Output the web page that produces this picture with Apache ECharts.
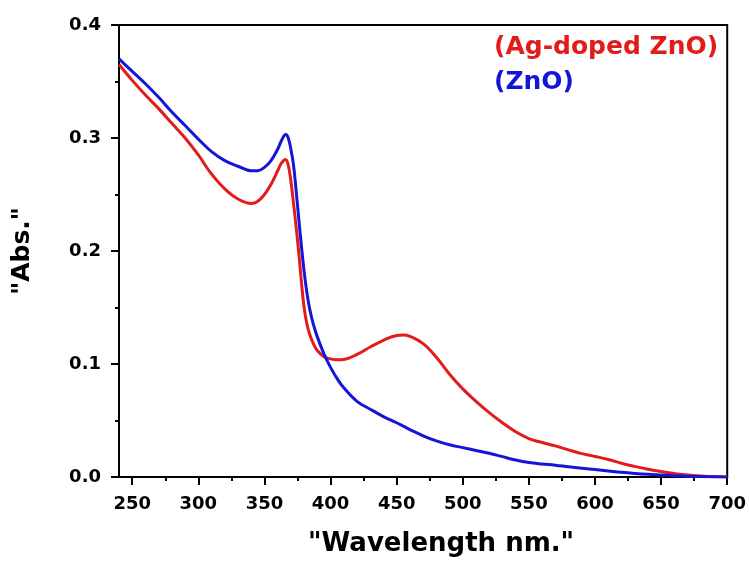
<!DOCTYPE html>
<html>
<head>
<meta charset="utf-8">
<script src="https://cdn.jsdelivr.net/npm/echarts@6/dist/echarts.min.js"></script>
<style>html,body{margin:0;padding:0;background:#fff;}#c{width:749px;height:565px;}</style>
</head>
<body>
<div id="c"></div>
<script>
const wavelengths = [240,250,260,270,280,290,300,310,320,330,340,345,350,355,360,363,366,368,370,372,374,376,378,380,382,384,387,390,395,400,405,410,420,430,440,450,455,460,470,480,490,500,510,520,530,540,550,560,570,580,590,600,610,620,630,640,650,660,670,680,690,700];
const absAgZnO = [0.365,0.351,0.338,0.326,0.313,0.300,0.285,0.268,0.255,0.246,0.242,0.244,0.250,0.259,0.271,0.278,0.281,0.276,0.262,0.242,0.221,0.198,0.172,0.150,0.136,0.127,0.118,0.112,0.1065,0.1045,0.1037,0.104,0.1085,0.115,0.121,0.1253,0.1257,0.1245,0.118,0.106,0.091,0.078,0.067,0.057,0.048,0.040,0.034,0.0305,0.0275,0.024,0.0207,0.0182,0.0155,0.0122,0.0094,0.0069,0.0048,0.0031,0.0017,0.0008,0.0002,0.0];
const absZnO = [0.370,0.359,0.348,0.336,0.323,0.311,0.299,0.288,0.280,0.275,0.271,0.271,0.274,0.280,0.290,0.298,0.303,0.300,0.290,0.276,0.253,0.228,0.204,0.182,0.164,0.150,0.135,0.124,0.109,0.097,0.087,0.079,0.067,0.060,0.0535,0.048,0.045,0.042,0.0365,0.032,0.0285,0.026,0.0235,0.021,0.018,0.015,0.0128,0.0115,0.0105,0.009,0.0077,0.0066,0.0054,0.0042,0.0032,0.0024,0.0018,0.0012,0.0007,0.0004,0.0002,0.0];
const xMajorTicks = [250,300,350,400,450,500,550,600,650,700];
const xMinorTicks = [275,325,375,425,475,525,575,625,675];
const seriesNames = ['(Ag-doped ZnO)', '(ZnO)'];
const xTitle = '"Wavelength nm."';
const yTitle = '"Abs."';

const RED = '#e31b1b';
const BLUE = '#1515d8';
const FONT = 'DejaVu Sans';

const chart = echarts.init(document.getElementById('c'), null, {renderer: 'canvas'});
const xBase = {
  type: 'value', min: 240, max: 700, position: 'bottom',
  splitLine: {show: false}
};
chart.setOption({
  animation: false,
  backgroundColor: '#fff',
  grid: {left: 119, right: 21, top: 25, bottom: 88, show: true, borderColor: '#000', borderWidth: 2, backgroundColor: 'transparent'},
  legend: {
    orient: 'vertical', left: 483, top: 30, itemWidth: 0, itemHeight: 0, itemGap: 10,
    selectedMode: false,
    textStyle: {fontFamily: FONT, fontWeight: 'bold', fontSize: 25},
    data: [
      {name: seriesNames[0], textStyle: {color: RED}},
      {name: seriesNames[1], textStyle: {color: BLUE}}
    ]
  },
  xAxis: [
    Object.assign({}, xBase, {
      name: xTitle, nameLocation: 'middle', nameGap: 54,
      nameTextStyle: {fontFamily: FONT, fontWeight: 'bold', fontSize: 26, color: '#000', padding: [0, 0, 0, 36]},
      axisLine: {show: true, lineStyle: {color: '#000', width: 2}},
      axisTick: {show: true, length: 8, lineStyle: {color: '#000', width: 2}, customValues: xMajorTicks},
      axisLabel: {show: true, margin: 18, fontFamily: FONT, fontWeight: 'bold', fontSize: 18, color: '#000', customValues: xMajorTicks}
    }),
    Object.assign({}, xBase, {
      axisLine: {show: false},
      axisTick: {show: true, length: 4, lineStyle: {color: '#000', width: 2}, customValues: xMinorTicks},
      axisLabel: {show: false}
    })
  ],
  yAxis: {
    type: 'value', min: 0, max: 0.4, interval: 0.1,
    name: yTitle, nameLocation: 'middle', nameGap: 84,
    nameTextStyle: {fontFamily: FONT, fontWeight: 'bold', fontSize: 25, color: '#000'},
    axisLine: {show: true, lineStyle: {color: '#000', width: 2}},
    axisTick: {show: true, length: 8, lineStyle: {color: '#000', width: 2}},
    minorTick: {show: true, splitNumber: 2, length: 4, lineStyle: {color: '#000', width: 2}},
    splitLine: {show: false},
    axisLabel: {margin: 18, fontFamily: FONT, fontWeight: 'bold', fontSize: 18, color: '#000', formatter: v => v.toFixed(1)}
  },
  series: [
    {
      name: seriesNames[0], type: 'line', showSymbol: false, smooth: 0.4, xAxisIndex: 0,
      lineStyle: {color: RED, width: 3}, itemStyle: {color: RED},
      data: wavelengths.map((w, i) => [w, absAgZnO[i]])
    },
    {
      name: seriesNames[1], type: 'line', showSymbol: false, smooth: 0.4, xAxisIndex: 0,
      lineStyle: {color: BLUE, width: 3}, itemStyle: {color: BLUE},
      data: wavelengths.map((w, i) => [w, absZnO[i]])
    }
  ]
});
</script>
</body>
</html>
